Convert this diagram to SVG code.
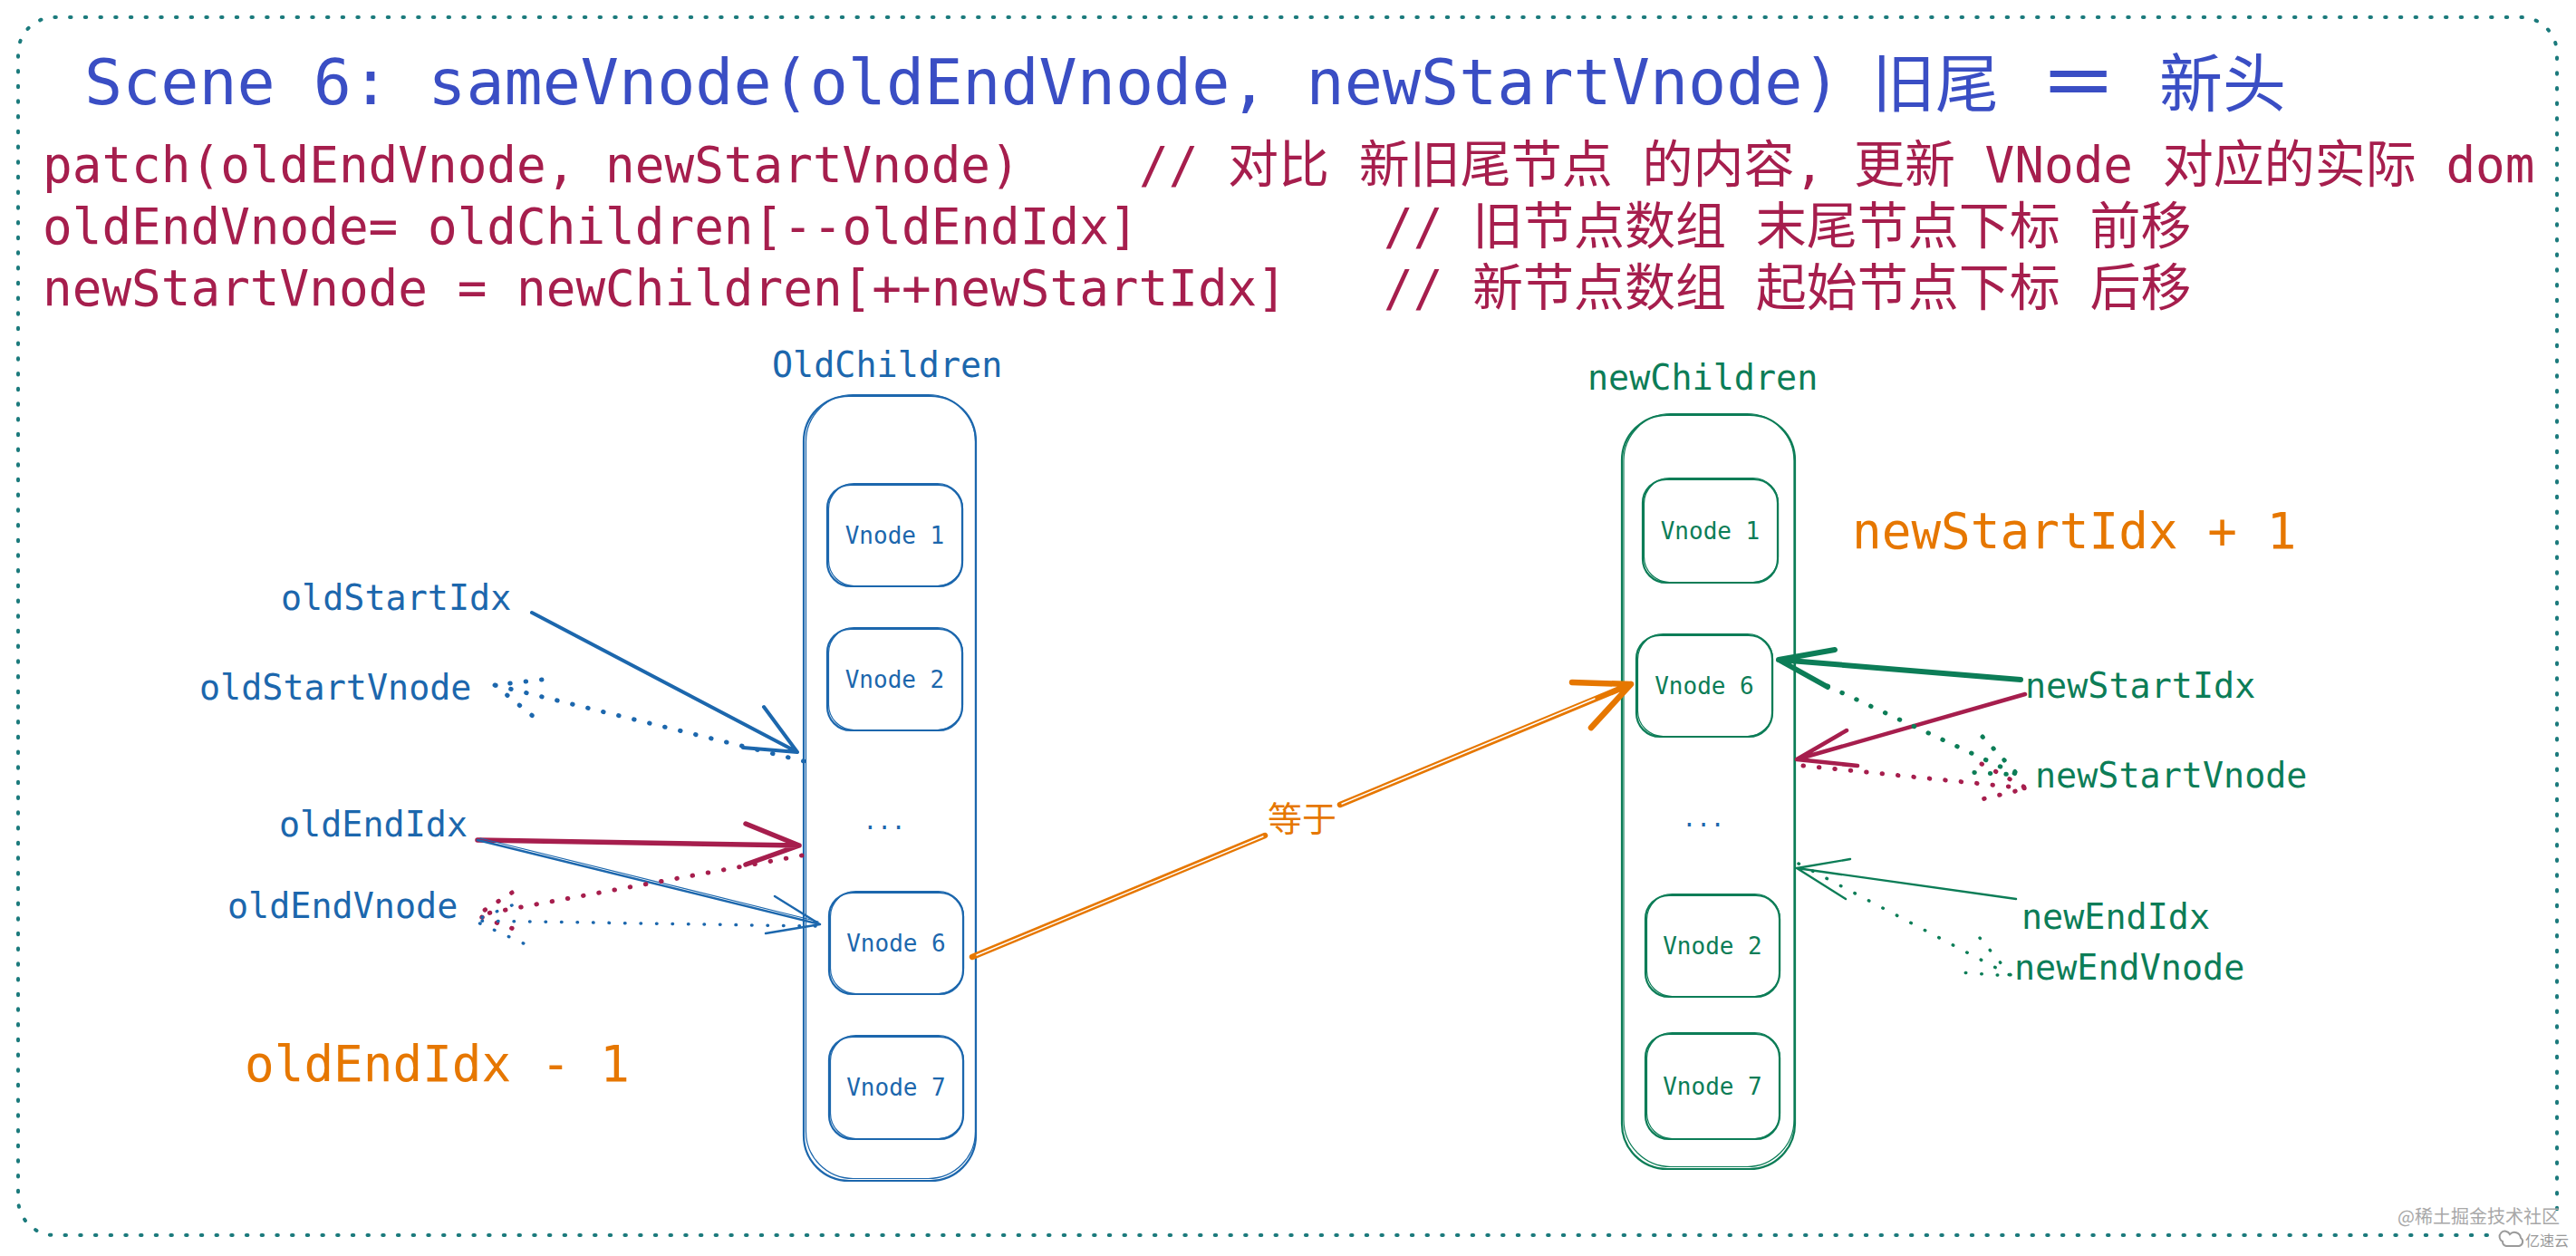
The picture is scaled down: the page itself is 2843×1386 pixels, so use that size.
<svg xmlns="http://www.w3.org/2000/svg" width="2843" height="1386" viewBox="0 0 2843 1386">
<style>
.mono{font-family:'DejaVu Sans Mono','Noto Sans CJK SC',monospace}
.cjk{font-family:'Noto Sans CJK SC',sans-serif}
.title{font-size:70px;fill:#3a4ec4}
.code{font-size:54.3px;fill:#a61e4d}
.cj{font-size:56px}
.lbl{font-size:38.4px}
.vn{font-size:26px;text-anchor:middle}
.blue{fill:#1c67ad}
.green{fill:#0c7d57}
.orange{fill:#e67700}
.boxB{fill:none;stroke:#1c67ad;stroke-width:2.2}
.boxG{fill:none;stroke:#0c7d57;stroke-width:2.2}
.thin{stroke-width:1.2}
.ln{fill:none;stroke-linecap:round;stroke-linejoin:round}
.dot{fill:none;stroke-linecap:round;stroke-dasharray:0.5 17}
</style>

<!-- outer dotted frame -->
<path d="M2745,1363 H60 A40,40 0 0 1 20,1323 V59 A40,40 0 0 1 60,19 H2782 A40,40 0 0 1 2822,59 V1340" fill="none" stroke="#1b7a7c" stroke-width="4" stroke-linecap="round" stroke-dasharray="1.5 15.2"/>

<!-- title and code lines -->
<g id="title">
<text class="mono title" x="93" y="115">Scene 6: sameVnode(oldEndVnode, newStartVnode)</text>
<text class="cjk title" y="118" font-size="72"><tspan x="2066">旧尾</tspan><tspan x="2383">新头</tspan></text>
<text class="cjk title" font-size="72" font-weight="700" transform="translate(2250,118) scale(1.25,1)" x="0" y="0">＝</text>
</g>
<g id="code">
<text class="mono code" x="47" y="201">patch(oldEndVnode, newStartVnode)</text>
<text class="mono code" x="1257" y="201">// <tspan class="cj">对比</tspan> <tspan class="cj">新旧尾节点</tspan> <tspan class="cj">的内容</tspan>, <tspan class="cj">更新</tspan> VNode <tspan class="cj">对应的实际</tspan> dom</text>
<text class="mono code" x="47" y="269">oldEndVnode= oldChildren[--oldEndIdx]</text>
<text class="mono code" x="1527" y="269">// <tspan class="cj">旧节点数组</tspan> <tspan class="cj">末尾节点下标</tspan> <tspan class="cj">前移</tspan></text>
<text class="mono code" x="47" y="337">newStartVnode = newChildren[++newStartIdx]</text>
<text class="mono code" x="1527" y="337">// <tspan class="cj">新节点数组</tspan> <tspan class="cj">起始节点下标</tspan> <tspan class="cj">后移</tspan></text>
</g>

<!-- old children -->
<g id="oldChildren">
<text class="mono lbl blue" x="852" y="416">OldChildren</text>
<rect class="boxB" x="887" y="437" width="190" height="866" rx="50"/>
<rect class="boxB thin" x="889.5" y="435.5" width="187" height="865" rx="52"/>
</g>
<g id="old-vnode1">
<rect class="boxB" x="913" y="535" width="149" height="112" rx="26"/>
<rect class="boxB thin" x="914.5" y="533.5" width="148" height="113" rx="28"/>
<text class="mono vn blue" x="987.5" y="600">Vnode 1</text>
</g>
<g id="old-vnode2">
<rect class="boxB" x="913" y="694" width="149" height="112" rx="26"/>
<rect class="boxB thin" x="914.5" y="692.5" width="148" height="113" rx="28"/>
<text class="mono vn blue" x="987.5" y="759">Vnode 2</text>
</g>
<g id="old-dots"><text class="mono vn blue" x="976" y="915">...</text></g>
<g id="old-vnode6">
<rect class="boxB" x="915" y="985" width="148" height="112" rx="26"/>
<rect class="boxB thin" x="916.5" y="983.5" width="147" height="113" rx="28"/>
<text class="mono vn blue" x="989" y="1050">Vnode 6</text>
</g>
<g id="old-vnode7">
<rect class="boxB" x="915" y="1144" width="148" height="113" rx="26"/>
<rect class="boxB thin" x="916.5" y="1142.5" width="147" height="114" rx="28"/>
<text class="mono vn blue" x="989" y="1209">Vnode 7</text>
</g>

<!-- new children -->
<g id="newChildren">
<text class="mono lbl green" x="1752" y="430">newChildren</text>
<rect class="boxG" x="1790" y="458" width="191" height="832" rx="50"/>
<rect class="boxG thin" x="1792" y="456.5" width="188" height="831" rx="52"/>
</g>
<g id="new-vnode1">
<rect class="boxG" x="1813" y="529" width="149" height="114" rx="26"/>
<rect class="boxG thin" x="1814.5" y="527.5" width="148" height="115" rx="28"/>
<text class="mono vn green" x="1887.5" y="595">Vnode 1</text>
</g>
<g id="new-vnode6">
<rect class="boxG" x="1806" y="701" width="150" height="112" rx="26"/>
<rect class="boxG thin" x="1807.5" y="699.5" width="149" height="113" rx="28"/>
<text class="mono vn green" x="1881" y="766">Vnode 6</text>
</g>
<g id="new-dots"><text class="mono vn blue" x="1880" y="912">...</text></g>
<g id="new-vnode2">
<rect class="boxG" x="1816" y="988" width="148" height="112" rx="26"/>
<rect class="boxG thin" x="1817.5" y="986.5" width="147" height="113" rx="28"/>
<text class="mono vn green" x="1890" y="1053">Vnode 2</text>
</g>
<g id="new-vnode7">
<rect class="boxG" x="1816" y="1141" width="148" height="116" rx="26"/>
<rect class="boxG thin" x="1817.5" y="1139.5" width="147" height="117" rx="28"/>
<text class="mono vn green" x="1890" y="1208">Vnode 7</text>
</g>

<!-- pointer labels -->
<g id="old-labels">
<text class="mono lbl blue" x="310" y="673">oldStartIdx</text>
<text class="mono lbl blue" x="220" y="772">oldStartVnode</text>
<text class="mono lbl blue" x="308" y="923">oldEndIdx</text>
<text class="mono lbl blue" x="251" y="1013">oldEndVnode</text>
<text class="mono code orange" x="270" y="1193">oldEndIdx - 1</text>
</g>
<g id="new-labels">
<text class="mono lbl green" x="2235" y="770">newStartIdx</text>
<text class="mono lbl green" x="2246" y="869">newStartVnode</text>
<text class="mono lbl green" x="2231" y="1025">newEndIdx</text>
<text class="mono lbl green" x="2223" y="1081">newEndVnode</text>
<text class="mono code orange" x="2044" y="605">newStartIdx + 1</text>
</g>

<!-- connectors -->
<g id="connectors">
<!-- old side -->
<path class="ln" stroke="#1c67ad" stroke-width="4" d="M587,676 L880,830 M843,780 L880,830 L820,825"/>
<path class="dot" stroke="#1c67ad" stroke-width="5" d="M887,840 L546,756 M598,750 L546,756 L589,791"/>
<path class="ln" stroke="#a61e4d" stroke-width="5.5" d="M527,927 L882,933 M823,909 L882,933 L823,954"/>
<path class="ln" stroke="#1c67ad" stroke-width="2.4" d="M527,927 L905,1020 M855,989 L905,1020 L845,1030"/>
<path class="ln" stroke="#1c67ad" stroke-width="1.2" d="M530,925 L903,1017"/>
<path class="dot" stroke="#a61e4d" stroke-width="5" d="M885,944 L526,1010 M565,985 L526,1010 L572,1027"/>
<path class="dot" stroke="#1c67ad" stroke-width="3.5" stroke-dasharray="0.5 15" d="M900,1022 L523,1016 M565,999 L523,1016 L582,1043"/>
<!-- new side -->
<path class="ln" stroke="#0c7d57" stroke-width="6" d="M2230,750 L1963,728 M2025,717 L1963,728 L2017,758"/>
<path class="ln" stroke="#a61e4d" stroke-width="4.5" d="M2235,766 L1983,838 M2038,806 L1983,838 L2050,845"/>
<path class="dot" stroke="#0c7d57" stroke-width="5" d="M2017,757 L2227,855 M2188,813 L2227,855 L2170,852"/>
<path class="dot" stroke="#a61e4d" stroke-width="5" d="M1990,845 L2237,870 M2187,843 L2237,870 L2183,883"/>
<path class="ln" stroke="#0c7d57" stroke-width="2.4" d="M2225,992 L1983,958 M2042,948 L1983,958 L2037,992"/>
<path class="dot" stroke="#0c7d57" stroke-width="3.5" stroke-dasharray="0.5 14" d="M1985,953 L2220,1077 M2185,1035 L2220,1077 L2163,1073"/>
<!-- equals arrow -->
<g id="equal-arrow">
<path class="ln" stroke="#e67700" stroke-width="6.5" d="M1073,1056 L1396,922 M1479,888 L1800,755 M1735,753 L1800,755 L1756,803"/>
<path class="ln" stroke="#ffffff" stroke-width="1.4" d="M1078,1054 L1394,923 M1481,887 L1760,771"/>
<text class="cjk orange" x="1399" y="917" font-size="38">等于</text>
</g>
</g>

<!-- watermark -->
<g id="watermark" fill="#9a9a9a">
<text class="cjk" x="2646" y="1350" font-size="20" fill="#a8a8a8">@稀土掘金技术社区</text>
<path d="M2762,1370 a6,6 0 1 1 8,-8 a7,7 0 0 1 12,4 a5,5 0 0 1 -2,9 h-14 a5,5 0 0 1 -4,-5z" fill="none" stroke="#9a9a9a" stroke-width="2"/>
<text class="cjk" x="2787" y="1375" font-size="16">亿速云</text>
</g>
</svg>
